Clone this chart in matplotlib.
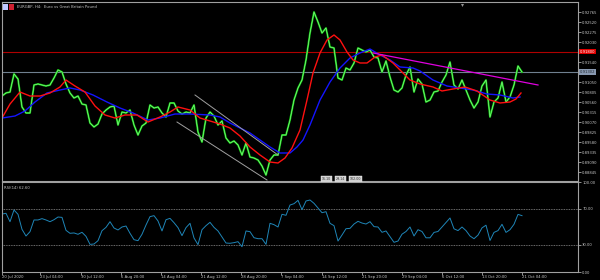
import numpy as np
import matplotlib
matplotlib.use("Agg")
import matplotlib.pyplot as plt
import matplotlib.transforms as mtransforms
from matplotlib.patches import Rectangle

# ---------------- data ----------------
# close prices, one sample every 4 bars-units (x = 0, 4, ..., 520)
close = [
    0.90714, 0.90788, 0.90812, 0.91254, 0.91131, 0.90445, 0.90298, 0.90298, 0.90984, 0.91009,
    0.90984, 0.90959, 0.90984, 0.91156, 0.91352, 0.91302, 0.91009, 0.90788, 0.90665, 0.90714,
    0.90518, 0.90494, 0.90053, 0.89955, 0.90028, 0.90273, 0.90371, 0.90445, 0.90469, 0.90004,
    0.90322, 0.90298, 0.90371, 0.90004, 0.89759, 0.89979, 0.90053, 0.90494, 0.90420, 0.90445,
    0.90298, 0.90200, 0.90543, 0.90543, 0.90347, 0.90273, 0.90322, 0.90298, 0.90494, 0.89832,
    0.89587, 0.90175, 0.90322, 0.90224, 0.90004, 0.90102, 0.89685, 0.89563, 0.89612, 0.89514,
    0.89269, 0.89563, 0.89220, 0.89195, 0.89146, 0.88999, 0.88779, 0.89146, 0.89269, 0.89269,
    0.89759, 0.89759, 0.90126, 0.90616, 0.90911, 0.91106, 0.91597, 0.92258, 0.92772, 0.92527,
    0.92258, 0.92380, 0.91915, 0.91890, 0.91156, 0.91106, 0.91400, 0.91352, 0.91523, 0.91890,
    0.91842, 0.91792, 0.91842, 0.91669, 0.91645, 0.91302, 0.91572, 0.91180, 0.90861, 0.90812,
    0.90911, 0.91229, 0.91425, 0.90812, 0.91131, 0.91009, 0.90567, 0.90616, 0.90812, 0.90837,
    0.91057, 0.91229, 0.91547, 0.90984, 0.90886, 0.91106, 0.90861, 0.90616, 0.90420, 0.90567,
    0.90959, 0.91106, 0.90200, 0.90567, 0.90665, 0.91057, 0.90567, 0.90690, 0.90984, 0.91449,
    0.91302,
]

ma_fast_x = [0, 8, 18, 28, 38, 48, 58, 64, 73, 83, 93, 103, 113, 123, 135, 146, 158, 168, 176,
             188, 198, 208, 218, 228, 238, 248, 258, 268, 276, 283, 290, 298, 305, 311, 318, 325,
             332, 338, 345, 351, 358, 365, 373, 380, 391, 398, 408, 418, 431, 440, 451, 463, 475,
             488, 498, 508, 514, 519]
ma_fast = [0.90175, 0.90518, 0.90812, 0.90714, 0.90714, 0.90788, 0.90935, 0.91106, 0.90959,
           0.90812, 0.90469, 0.90249, 0.90175, 0.90249, 0.90249, 0.90077, 0.90200, 0.90322,
           0.90445, 0.90371, 0.90175, 0.90102, 0.90028, 0.89930, 0.89734, 0.89465, 0.89269,
           0.89097, 0.89073, 0.89195, 0.89441, 0.89881, 0.90616, 0.91278, 0.91768, 0.92087,
           0.92209, 0.92087, 0.91792, 0.91597, 0.91523, 0.91523, 0.91669, 0.91719, 0.91523,
           0.91352, 0.91106, 0.91009, 0.90935, 0.90837, 0.90886, 0.90935, 0.90837, 0.90616,
           0.90543, 0.90567, 0.90641, 0.90788]

ma_slow_x = [0, 13, 23, 33, 45, 58, 68, 78, 91, 105, 118, 131, 146, 158, 173, 188, 208, 218,
             228, 238, 248, 258, 268, 278, 288, 295, 301, 308, 318, 328, 338, 348, 358, 368,
             378, 388, 398, 411, 418, 431, 445, 458, 471, 485, 498, 511, 518]
ma_slow = [0.90175, 0.90224, 0.90347, 0.90567, 0.90788, 0.90861, 0.90911, 0.90861, 0.90739,
           0.90567, 0.90420, 0.90298, 0.90126, 0.90175, 0.90273, 0.90273, 0.90249, 0.90200,
           0.90053, 0.89930, 0.89808, 0.89636, 0.89465, 0.89318, 0.89318, 0.89465, 0.89636,
           0.90004, 0.90616, 0.91057, 0.91400, 0.91645, 0.91768, 0.91866, 0.91719, 0.91597,
           0.91425, 0.91400, 0.91327, 0.91106, 0.90959, 0.90911, 0.90861, 0.90763, 0.90739,
           0.90665, 0.90690]

rsi = [
    64.4, 65.2, 55.9, 68.9, 64.1, 47.4, 40.0, 44.8, 57.8, 57.8, 59.3, 57.8, 55.9, 58.1, 61.1,
    60.7, 46.3, 43.0, 43.4, 41.9, 44.1, 39.6, 30.7, 31.1, 34.8, 45.9, 49.6, 55.9, 48.9, 46.7,
    50.0, 51.1, 43.0, 35.9, 34.8, 41.9, 52.2, 61.5, 62.6, 56.7, 45.6, 58.1, 59.6, 54.8, 49.3,
    40.4, 49.3, 54.1, 37.8, 30.4,
    47.0, 51.5, 55.2, 49.6, 45.6, 38.9, 32.2, 31.9, 32.6, 33.7, 28.1, 45.6, 44.8, 38.1, 37.0,
    37.0, 30.7, 54.1, 52.6, 50.0, 64.1, 63.0, 74.4, 75.9, 79.6, 69.3, 78.9, 80.0, 76.3, 71.1,
    65.9, 67.0, 54.1, 51.5, 34.4, 41.1, 48.1, 48.5, 53.3, 56.3, 54.4, 53.3, 55.9, 50.4, 50.0,
    44.1, 45.6, 39.3, 33.0, 34.4,
    42.0, 45.0, 50.0, 40.0, 47.0, 45.0, 38.0, 38.0, 44.0, 45.0, 50.0, 55.0, 60.0, 48.0, 46.0,
    50.0, 46.0, 40.0, 37.0, 41.0, 49.0, 52.0, 35.0, 44.0, 46.0, 53.0, 44.0, 47.0, 53.0, 64.0,
    62.6,
]

price_ticks = [0.92765, 0.92520, 0.92275, 0.92030, 0.91785, 0.91540, 0.91295, 0.91050,
               0.90805, 0.90560, 0.90315, 0.90070, 0.89825, 0.89580, 0.89335, 0.89090, 0.88845]
rsi_levels = [70, 30]
rsi_ticks = [100, 70, 30, 0]
time_labels = ["20 Jul 2020", "23 Jul 04:00", "30 Jul 12:00", "6 Aug 20:00", "14 Aug 04:00",
               "21 Aug 12:00", "28 Aug 20:00", "7 Sep 04:00", "14 Sep 12:00", "21 Sep 20:00",
               "29 Sep 04:00", "6 Oct 12:00", "13 Oct 20:00", "21 Oct 04:00"]
time_pos = [0, 38, 79, 119, 159, 199, 239, 279, 320, 360, 400, 440, 480, 520]
badge_texts = ["16.10", "29.14", "102.00"]

level_red = 0.91800
bid = 0.91302
channel_upper = ([193, 276], [0.90739, 0.89269])
channel_lower = ([175, 265], [0.90077, 0.88656])
trend_line = ([371, 536], [0.91768, 0.90984])
shift_marker_x = 460

# ---------------- figure ----------------
W, H = 600, 280
fig = plt.figure(figsize=(W / 100, H / 100), dpi=100, facecolor="black")
FS = 2.7
FG = "#c8c8c8"


def box(l, t, r, b):
    return [l / W, 1 - b / H, (r - l) / W, (b - t) / H]


ax = fig.add_axes(box(2, 2, 578, 181))
ax2 = fig.add_axes(box(2, 182, 578, 272))
for a in (ax, ax2):
    a.set_facecolor("black")
    for s in a.spines.values():
        s.set_color("#a0a0a0")
        s.set_linewidth(0.8)
    a.set_xlim(0, 576)

x = np.arange(len(close)) * 4
ax.set_ylim(0.88632, 0.93017)

ax.axhline(level_red, color="#b00000", lw=0.8)
ax.axhline(bid, color="#708090", lw=0.8)

ax.plot(x, close, color="#10c010", lw=1.4)
ax.plot(x, close, color="#90ff90", lw=0.45)
ax.plot(ma_slow_x, ma_slow, color="#1414ff", lw=1.0)
ax.plot(ma_fast_x, ma_fast, color="#ff1010", lw=1.0)
ax.plot(*channel_upper, color="#a0a0a0", lw=0.7)
ax.plot(*channel_lower, color="#a0a0a0", lw=0.7)
ax.plot(*trend_line, color="#e000e0", lw=0.9)

ax.yaxis.tick_right()
ax.set_yticks(price_ticks)
# the two axis labels behind the red and bid boxes are hidden by those boxes
ax.set_yticklabels(["" if v in (0.91785, 0.91295) else f"{v:.5f}" for v in price_ticks])
ax.tick_params(axis="y", colors=FG, labelsize=FS, length=2, width=0.5, pad=1)
ax.set_xticks([])

tr = mtransforms.blended_transform_factory(ax.transAxes, ax.transData)
ax.text(1.003, level_red, f"{level_red:.5f}", transform=tr, fontsize=FS, color="white",
        va="center", ha="left",
        bbox=dict(boxstyle="square,pad=0.15", fc="#e00000", ec="none"))
ax.text(1.003, bid, f"{bid:.5f}", transform=tr, fontsize=FS, color="#202830",
        va="center", ha="left",
        bbox=dict(boxstyle="square,pad=0.15", fc="#8898b0", ec="none"))

# chart-shift marker at top
trx = mtransforms.blended_transform_factory(ax.transData, ax.transAxes)
ax.plot([shift_marker_x], [0.985], marker="v", ms=2.2, color="#909090", mec="none",
        transform=trx, clip_on=False)

# small grey badges at the bottom of the price panel
bx = 320
for t in badge_texts:
    ax.text(bx, 0.002, t, transform=trx, fontsize=2.3, color="#303030", va="bottom",
            ha="left", bbox=dict(boxstyle="square,pad=0.3", fc="#d0d0d0", ec="#f0f0f0",
                                 lw=0.3))
    bx += 14 if len(t) < 6 else 17

# title with flag icons
fig.patches.append(Rectangle((3 / W, 1 - 10 / H), 5 / W, 6 / H, transform=fig.transFigure,
                             fc="#c0c8ff", ec="none"))
fig.patches.append(Rectangle((9 / W, 1 - 10 / H), 5 / W, 6 / H, transform=fig.transFigure,
                             fc="#d02030", ec="none"))
fig.text(17 / W, 1 - 7 / H, "EURGBP, H4:  Euro vs Great Britain Pound", fontsize=FS,
         color=FG, va="center", ha="left")

# RSI panel
ax2.set_ylim(0, 100)
for lv in rsi_levels:
    ax2.axhline(lv, color="#909090", lw=0.6, ls=(0, (1, 1)))
ax2.plot(x, rsi, color="#1f86b8", lw=0.7)
ax2.yaxis.tick_right()
ax2.set_yticks(rsi_ticks)
ax2.set_yticklabels([f"{v:.2f}" for v in rsi_ticks])
ax2.tick_params(axis="y", colors=FG, labelsize=FS, length=2, width=0.5, pad=1)
ax2.text(0.003, 0.955, f"RSI(14) {rsi[-1]:.2f}", transform=ax2.transAxes, fontsize=FS,
         color=FG, va="top", ha="left")

ax2.set_xticks(time_pos)
ax2.set_xticklabels(time_labels)
ax2.tick_params(axis="x", colors=FG, labelsize=FS, length=2, width=0.5, pad=0.5)
for lab in ax2.get_xticklabels():
    lab.set_ha("left")

fig.savefig("out.png", dpi=100, facecolor="black")
